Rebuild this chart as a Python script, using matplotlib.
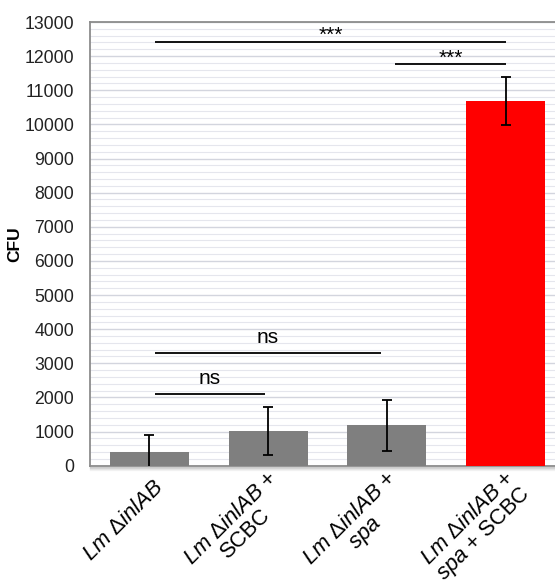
import matplotlib
matplotlib.use("Agg")
import matplotlib.pyplot as plt
from matplotlib.ticker import MultipleLocator
from matplotlib.transforms import ScaledTranslation, blended_transform_factory

plt.rcParams["font.family"] = ["Liberation Sans", "DejaVu Sans"]
plt.rcParams["mathtext.fontset"] = "custom"
plt.rcParams["mathtext.rm"] = "Liberation Sans"
plt.rcParams["mathtext.it"] = "Liberation Sans:italic"

# ---- data ----
groups = [
    r"$\mathit{Lm\ ΔinlAB}$",
    "$\\mathit{Lm\\ ΔinlAB}$ +\nSCBC",
    "$\\mathit{Lm\\ ΔinlAB}$ +\n$\\mathit{spa}$",
    "$\\mathit{Lm\\ ΔinlAB}$ +\n$\\mathit{spa}$ + SCBC",
]
cfu_mean = [400, 1010, 1180, 10680]
cfu_sd = [500, 705, 745, 695]
bar_colors = ["#7f7f7f", "#7f7f7f", "#7f7f7f", "#ff0000"]

# significance brackets: (x start, x end, height, label)
sig_x0 = [0.05, 0.05, 2.07, 0.05]
sig_x1 = [0.97, 1.95, 3.0, 3.0]
sig_y = [2100, 3300, 11770, 12400]
sig_text = ["ns", "ns", "***", "***"]

fig = plt.figure(figsize=(5.55, 5.83), dpi=100)
ax = fig.add_axes([90 / 555, 117.3 / 583, 475 / 555, 443.7 / 583])

x = list(range(len(groups)))
ax.bar(x, cfu_mean, width=0.665, color=bar_colors, zorder=3)
ax.errorbar(x, cfu_mean, yerr=cfu_sd, fmt="none", ecolor="black",
            elinewidth=1.3, capsize=3.6, capthick=1.3, zorder=4)

ax.set_xlim(-0.5, 3.5)
ax.set_ylim(0, 13000)
ax.yaxis.set_major_locator(MultipleLocator(1000))
ax.yaxis.set_minor_locator(MultipleLocator(200))
ax.grid(which="major", axis="y", color="#d3d5de", lw=1.0, zorder=0)
ax.grid(which="minor", axis="y", color="#e5e6ed", lw=0.8, zorder=0)
ax.set_axisbelow(True)

ax.tick_params(axis="y", which="both", length=0, pad=11.5, labelsize=12.7,
               labelcolor="#222222")
ax.tick_params(axis="x", length=0)
ax.set_xticks(x)
ax.set_xticklabels([])

for side in ["left", "bottom", "top"]:
    ax.spines[side].set_color("#8c8c8c")
    ax.spines[side].set_linewidth(1.3)
ax.spines["right"].set_visible(False)

# soft shadow under the plot area
for i, a in enumerate([0.18, 0.12, 0.07, 0.04]):
    off = ScaledTranslation(0, -(i + 1.5) / 100, fig.dpi_scale_trans)
    ax.plot([0, 1], [0, 0], transform=ax.transAxes + off, color="black",
            alpha=a, lw=1, clip_on=False, zorder=1)

ax.set_ylabel("CFU", fontsize=12.5, fontweight="bold")
ax.yaxis.set_label_coords(-0.143, 0.5)

# rotated category labels
lab_dx = [3, -1, -1, -2]
lab_dy = [-11, -2, -2, -2]
btr = blended_transform_factory(ax.transData, ax.transAxes)
for xi, lab, dx, dy in zip(x, groups, lab_dx, lab_dy):
    off = ScaledTranslation(dx / 100, dy / 100, fig.dpi_scale_trans)
    ax.text(xi, 0, lab, transform=btr + off, rotation=45, ha="right",
            va="top", rotation_mode="anchor", multialignment="center",
            fontsize=15.8, color="black", linespacing=1.0)

# significance annotations
sig_pad = [170, 170, -120, -60]
for x0, x1, yv, t, p in zip(sig_x0, sig_x1, sig_y, sig_text, sig_pad):
    ax.plot([x0, x1], [yv, yv], color="black", lw=1.3, zorder=5,
            solid_capstyle="butt")
    ax.text((x0 + x1) / 2, yv + p, t, ha="center", va="bottom",
            fontsize=15, zorder=5)

fig.savefig("out.png", dpi=100)
